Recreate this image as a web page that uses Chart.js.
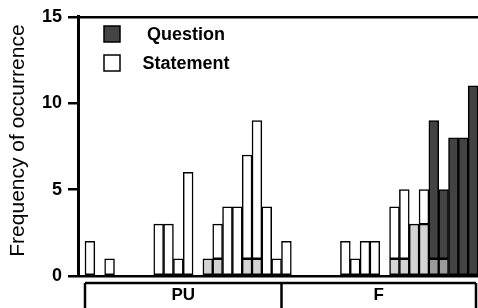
<!DOCTYPE html>
<html>
<head>
<meta charset="utf-8">
<script src="https://cdn.jsdelivr.net/npm/chart.js@4"></script>
<style>
  html, body { margin: 0; padding: 0; background: #fff; }
  #wrap { width: 478px; height: 308px; position: relative; }
</style>
</head>
<body>
<div id="wrap"><canvas id="barChart"></canvas></div>
<script>
// one slot per interval, 20 for PU then 20 for F
const groups = ['PU', 'F'];
const groupSizes = [20, 20];
const statement =        [2,0,1,0,0,0,0,3,3,1,6,0,1,3,4,4,7,9,4,1, 2,0,0,0,0,0,2,1,2,2,0,4,5,3,5,0,0,0,0,0];
const statementShaded =  [0,0,0,0,0,0,0,0,0,0,0,0,1,1,0,0,1,1,0,0, 0,0,0,0,0,0,0,0,0,0,0,1,1,3,3,0,0,0,0,0];
const question =         [0,0,0,0,0,0,0,0,0,0,0,0,0,0,0,0,0,0,0,0, 0,0,0,0,0,0,0,0,0,0,0,0,0,0,0,9,5,8,8,11];
const questionShaded =   [0,0,0,0,0,0,0,0,0,0,0,0,0,0,0,0,0,0,0,0, 0,0,0,0,0,0,0,0,0,0,0,0,0,0,0,1,1,0,0,0];
const yTicks = [0, 5, 10, 15];
const legendLabels = ['Question', 'Statement'];

const FONT = "'Liberation Sans', Arial, sans-serif";

document.addEventListener('DOMContentLoaded', () => {
  const ctx = document.getElementById('barChart');

  const toPoints = arr => arr.map((v, i) => ({ x: i, y: v > 0 ? v : null }));
  const minus = (a, b) => a.map((v, i) => v - b[i]);

  const mkSet = (data, color) => ({
    data: toPoints(data),
    backgroundColor: color,
    borderColor: '#000',
    borderWidth: 1.5,
    borderSkipped: false,
    barPercentage: 1,
    categoryPercentage: 1
  });

  // legend + PU/F bracket under the axis
  const extras = {
    id: 'extras',
    afterDraw(chart) {
      const c = chart.ctx;
      const x = chart.scales.x;
      c.save();
      c.strokeStyle = '#000';
      c.fillStyle = '#000';

      // legend
      const swatches = ['#444444', '#ffffff'];
      const rowsY = [34, 63];
      c.lineWidth = 1.5;
      legendLabels.forEach((lab, i) => {
        c.fillStyle = swatches[i];
        c.fillRect(104, rowsY[i] - 8, 16, 16);
        c.strokeRect(104, rowsY[i] - 8, 16, 16);
        c.fillStyle = '#000';
        c.font = 'bold 18px ' + FONT;
        c.textAlign = 'center';
        c.textBaseline = 'middle';
        c.fillText(lab, 186, rowsY[i] + 1);
      });

      // bracket
      const top = 283;
      const bottom = chart.height + 2;
      let start = -0.5;
      const edges = [x.getPixelForValue(start)];
      groupSizes.forEach(n => { start += n; edges.push(Math.min(x.getPixelForValue(start), chart.width - 2)); });
      c.lineWidth = 2.5;
      c.beginPath();
      c.moveTo(edges[0], top);
      c.lineTo(edges[edges.length - 1], top);
      edges.forEach(e => { c.moveTo(e, top); c.lineTo(e, bottom); });
      c.stroke();
      c.font = 'bold 17px ' + FONT;
      groups.forEach((g, i) => {
        c.fillText(g, (edges[i] + edges[i + 1]) / 2, 295);
      });
      c.restore();
    }
  };

  new Chart(ctx, {
    type: 'bar',
    data: {
      datasets: [
        mkSet(statementShaded, '#d3d3d3'),
        mkSet(questionShaded, '#9c9c9c'),
        mkSet(minus(statement, statementShaded), '#ffffff'),
        mkSet(minus(question, questionShaded), '#434343')
      ]
    },
    options: {
      responsive: true,
      maintainAspectRatio: false,
      animation: false,
      layout: { padding: { top: 15, bottom: 32, left: 0, right: 0 } },
      plugins: { legend: { display: false }, tooltip: { enabled: false } },
      scales: {
        x: {
          type: 'linear',
          stacked: true,
          offset: false,
          min: -1.2125,
          max: 39.5,
          display: false
        },
        y: {
          stacked: true,
          min: 0,
          max: 15,
          afterFit: axis => { axis.width = 78; },
          afterBuildTicks: axis => { axis.ticks = yTicks.map(v => ({ value: v })); },
          border: { display: true, color: '#000', width: 3 },
          grid: {
            drawOnChartArea: true,
            color: c => (c.tick && (c.tick.value === 0 || c.tick.value === 15)) ? '#000' : 'rgba(0,0,0,0)',
            tickColor: '#000',
            tickLength: 10,
            lineWidth: 2.5
          },
          ticks: {
            color: '#000',
            padding: 6,
            font: { family: FONT, size: 18, weight: 'bold' }
          },
          title: {
            display: true,
            text: '  Frequency of occurrence',
            color: '#000',
            padding: { top: 6, bottom: 0 },
            font: { family: FONT, size: 21 }
          }
        }
      }
    },
    plugins: [extras]
  });
});
</script>
</body>
</html>
